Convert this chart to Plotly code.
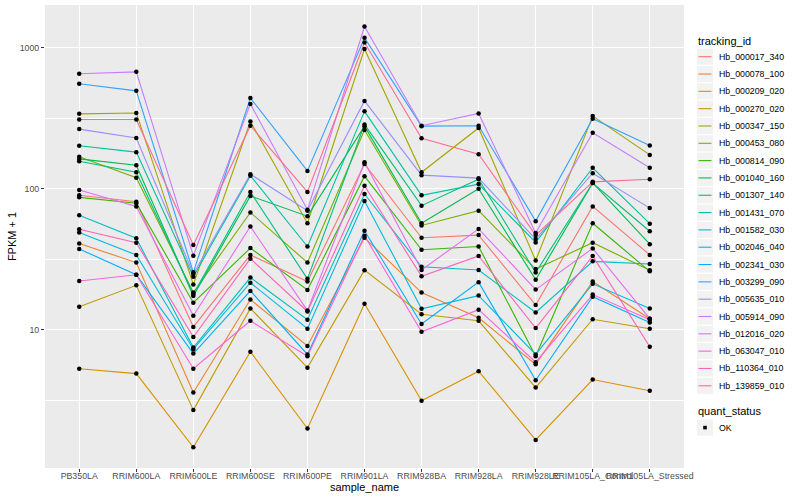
import plotly.graph_objects as go

samples = ["PB350LA", "RRIM600LA", "RRIM600LE", "RRIM600SE", "RRIM600PE", "RRIM901LA",
           "RRIM928BA", "RRIM928LA", "RRIM928LE", "RRIM105LA_Control", "RRIM105LA_Stressed"]

tracking_ids = ["Hb_000017_340", "Hb_000078_100", "Hb_000209_020", "Hb_000270_020",
                "Hb_000347_150", "Hb_000453_080", "Hb_000814_090", "Hb_001040_160",
                "Hb_001307_140", "Hb_001431_070", "Hb_001582_030", "Hb_002046_040",
                "Hb_002341_030", "Hb_003299_090", "Hb_005635_010", "Hb_005914_090",
                "Hb_012016_020", "Hb_063047_010", "Hb_110364_010", "Hb_139859_010"]

colors = ["#F8766D", "#EA8331", "#D89000", "#C09B00", "#A3A500", "#7CAE00", "#39B600",
          "#00BB4E", "#00BF7D", "#00C1A3", "#00BFC4", "#00BAE0", "#00B0F6", "#35A2FF",
          "#9590FF", "#C77CFF", "#E76BF3", "#FA62DB", "#FF62BC", "#FF6C91"]

# FPKM + 1 per sample, one list per tracking_id
hb_000017_340 = [90, 81, 10.5, 34, 22, 150, 45, 47, 15, 75, 34]
hb_000078_100 = [41, 30, 3.6, 16.4, 7.7, 45, 18.4, 12.2, 5.7, 22, 12]
hb_000209_020 = [5.3, 4.9, 1.47, 7.0, 2.0, 15.3, 3.14, 5.1, 1.66, 4.45, 3.7]
hb_000270_020 = [14.6, 20.7, 2.7, 14.2, 5.4, 26.5, 12.9, 11.6, 3.9, 11.9, 10.2]
hb_000347_150 = [340, 345, 21, 300, 57, 980, 131, 270, 31, 328, 174]
hb_000453_080 = [169, 120, 18.4, 68, 30, 261, 55, 70, 27, 41.5, 26.5]
hb_000814_090 = [87, 79, 15.6, 38, 19.2, 123, 37, 39, 6.5, 57, 26]
hb_001040_160 = [163, 147, 17.4, 89, 64, 278, 57, 100, 22.7, 110, 40.5]
hb_001307_140 = [157, 131, 17.9, 95, 23, 286, 76, 117, 25.5, 110, 50]
hb_001431_070 = [202, 182, 23.8, 124, 39, 354, 90, 108, 41.7, 141, 56.6]
hb_001582_030 = [65, 44.6, 7.5, 23.5, 11.8, 92, 28, 26.6, 13.3, 30.6, 29.3]
hb_002046_040 = [49, 34, 7.3, 21.6, 10.2, 82, 14.1, 17.5, 6.7, 21.2, 14.2]
hb_002341_030 = [37.5, 24.6, 6.8, 18.9, 6.7, 50.5, 11.0, 21.8, 4.4, 17.2, 11.3]
hb_003299_090 = [555, 495, 25.6, 440, 134, 1175, 278, 280, 59, 314, 203]
hb_005635_010 = [265, 229, 24.9, 127, 70, 420, 125, 119, 44, 129, 73]
hb_005914_090 = [654, 675, 33.6, 400, 71, 1415, 280, 342, 48.6, 250, 141]
hb_012016_020 = [98, 75, 12.6, 54, 13.7, 154, 26.6, 52, 19.3, 37.8, 12]
hb_063047_010 = [22.2, 24.6, 5.3, 11.6, 6.5, 46.5, 9.7, 13.9, 5.9, 17.8, 11.8]
hb_110364_010 = [51.7, 41.5, 8.9, 32, 13.5, 105, 24, 33.4, 10.3, 33.4, 7.6]
hb_139859_010 = [310, 310, 40, 280, 95, 1090, 228, 176, 47, 112, 117]

series = [hb_000017_340, hb_000078_100, hb_000209_020, hb_000270_020, hb_000347_150,
          hb_000453_080, hb_000814_090, hb_001040_160, hb_001307_140, hb_001431_070,
          hb_001582_030, hb_002046_040, hb_002341_030, hb_003299_090, hb_005635_010,
          hb_005914_090, hb_012016_020, hb_063047_010, hb_110364_010, hb_139859_010]

quant_status = ["OK"]

y_ticks = [10, 100, 1000]
y_tick_labels = ["10", "100", "1000"]

FONT = "Liberation Sans, Arial, sans-serif"
W, H = 800, 500
ML, MR, MT, MB = 45, 116, 5, 32


def px_x(p):
    return (p - ML) / (W - ML - MR)


def px_y(p):
    return (H - MB - p) / (H - MT - MB)


fig = go.Figure()
for name, col, vals in zip(tracking_ids, colors, series):
    fig.add_trace(go.Scatter(
        x=samples, y=vals, mode="lines", name=name,
        line=dict(color=col, width=1.1), showlegend=False))

all_x, all_y = [], []
for vals in series:
    all_x += samples
    all_y += vals
fig.add_trace(go.Scatter(
    x=all_x, y=all_y, mode="markers", name=quant_status[0],
    marker=dict(color="black", size=4.5, symbol="circle"), showlegend=False))

# ---- legend drawn in the right margin (ggplot style) ----
shapes, annos = [], []
key_left, key_w, row_h = 697, 16, 17.32
first_row = 56.7
annos.append(dict(text="tracking_id", x=px_x(key_left - 1), y=px_y(40.7),
                  xref="paper", yref="paper", xanchor="left", yanchor="middle",
                  showarrow=False, font=dict(size=11, color="black", family=FONT)))
for i, (name, col) in enumerate(zip(tracking_ids, colors)):
    cy = first_row + i * row_h
    shapes.append(dict(type="rect", xref="paper", yref="paper",
                       x0=px_x(key_left), x1=px_x(key_left + key_w),
                       y0=px_y(cy - row_h / 2 + 0.6), y1=px_y(cy + row_h / 2 - 0.6),
                       fillcolor="#F2F2F2", line=dict(width=0), layer="below"))
    shapes.append(dict(type="line", xref="paper", yref="paper",
                       x0=px_x(key_left + 1.5), x1=px_x(key_left + key_w - 1.5),
                       y0=px_y(cy), y1=px_y(cy), line=dict(color=col, width=1.1)))
    annos.append(dict(text=name, x=px_x(key_left + key_w + 3.5), y=px_y(cy),
                      xref="paper", yref="paper", xanchor="left", yanchor="middle",
                      showarrow=False, font=dict(size=8.8, color="black", family=FONT)))

qs_title = first_row + 19 * row_h + 25
annos.append(dict(text="quant_status", x=px_x(key_left - 1), y=px_y(qs_title),
                  xref="paper", yref="paper", xanchor="left", yanchor="middle",
                  showarrow=False, font=dict(size=11, color="black", family=FONT)))
ok_y = qs_title + 16.8
shapes.append(dict(type="rect", xref="paper", yref="paper",
                   x0=px_x(key_left), x1=px_x(key_left + key_w),
                   y0=px_y(ok_y - row_h / 2 + 0.6), y1=px_y(ok_y + row_h / 2 - 0.6),
                   fillcolor="#F2F2F2", line=dict(width=0), layer="below"))
shapes.append(dict(type="rect", xref="paper", yref="paper",
                   x0=px_x(key_left + key_w / 2 - 1.8), x1=px_x(key_left + key_w / 2 + 1.8),
                   y0=px_y(ok_y - 1.8), y1=px_y(ok_y + 1.8),
                   fillcolor="black", line=dict(width=0)))
annos.append(dict(text=quant_status[0], x=px_x(key_left + key_w + 3.5), y=px_y(ok_y),
                  xref="paper", yref="paper", xanchor="left", yanchor="middle",
                  showarrow=False, font=dict(size=8.8, color="black", family=FONT)))

fig.update_layout(
    width=W, height=H,
    margin=dict(l=ML, r=MR, t=MT, b=MB),
    paper_bgcolor="white", plot_bgcolor="#EBEBEB",
    font=dict(family=FONT, size=9, color="black"),
    showlegend=False, shapes=shapes, annotations=annos,
)

fig.update_xaxes(
    type="category", categoryorder="array", categoryarray=samples,
    range=[-0.6, len(samples) - 0.4], tickangle=0,
    showgrid=True, gridcolor="white", gridwidth=1.1,
    ticks="outside", ticklen=3, tickcolor="#333333", tickwidth=1,
    ticklabelstandoff=-4,
    tickfont=dict(size=8.8, color="#4D4D4D", family=FONT),
    title=dict(text="sample_name", font=dict(size=11, color="black"), standoff=0),
    zeroline=False, showline=False, automargin=False)

fig.update_yaxes(
    type="log", range=[0.021, 3.303],
    tickvals=y_ticks, ticktext=y_tick_labels,
    showgrid=True, gridcolor="white", gridwidth=1.1,
    minor=dict(tickvals=[3.1623, 31.623, 316.23], showgrid=True,
               gridcolor="white", gridwidth=0.55, ticks=""),
    ticks="outside", ticklen=3, tickcolor="#333333", tickwidth=1,
    tickfont=dict(size=8.8, color="#4D4D4D", family=FONT),
    title=dict(text="FPKM + 1", font=dict(size=11, color="black"), standoff=0),
    zeroline=False, showline=False, automargin=False)

fig.write_html("out.html",
               config={"displayModeBar": False},
               post_script="document.body.style.margin='0px';"
                           "document.body.style.padding='0px';")
